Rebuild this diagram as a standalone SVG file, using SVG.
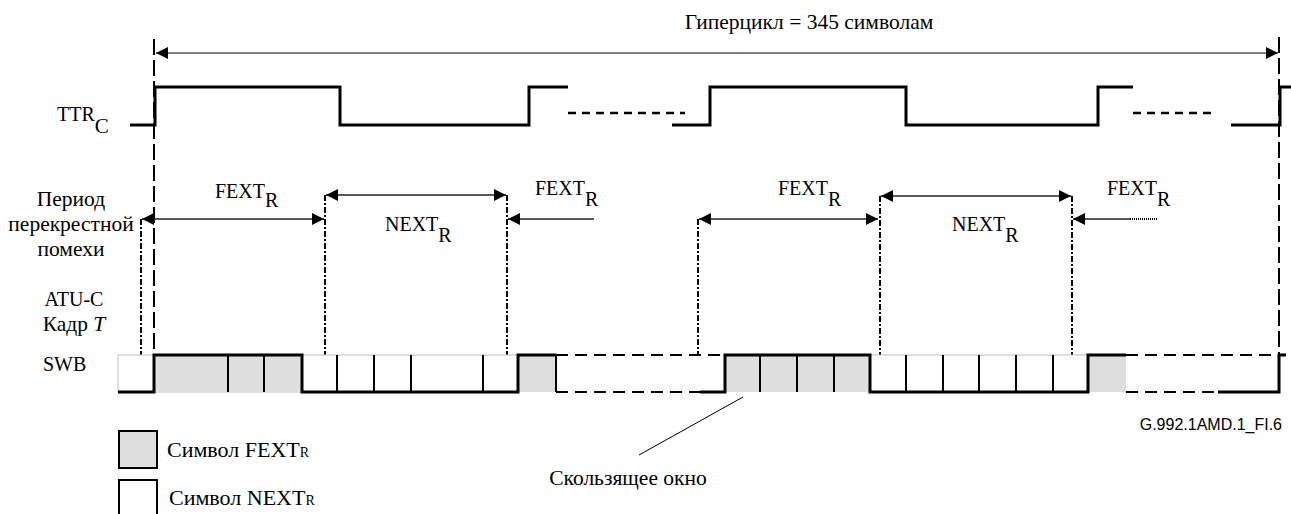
<svg xmlns="http://www.w3.org/2000/svg" width="1291" height="514" viewBox="0 0 1291 514">
<style>
text{font-family:"Liberation Serif","Times New Roman",serif;font-size:20px;fill:#000}
.cy{font-size:21.5px}
.lg{font-size:22px}
.sans{font-family:"Liberation Sans",Arial,sans-serif;font-size:16px}
.wave{fill:none;stroke:#000;stroke-width:3;stroke-linejoin:miter}
.wdash{fill:none;stroke:#000;stroke-width:2.5;stroke-dasharray:8 6}
.ldash{fill:none;stroke:#000;stroke-width:2;stroke-dasharray:16 5}
.dd{fill:none;stroke:#000;stroke-width:2;stroke-dasharray:6 2 2 2}
.arr{fill:none;stroke:#222;stroke-width:1.3}
.garr{fill:none;stroke:#808080;stroke-width:2}
.cell{fill:#fff;stroke:#c0c0c0;stroke-width:1}
.gcell{fill:#dedede;stroke:none}
.div{stroke:#000;stroke-width:2}
.sdash{fill:none;stroke:#000;stroke-width:2;stroke-dasharray:12 7}
</style>
<defs>
<marker id="ah" markerUnits="userSpaceOnUse" markerWidth="13" markerHeight="12" refX="12" refY="6" orient="auto-start-reverse">
<path d="M0,0 L12,6 L0,12 z" fill="#000"/>
</marker>
</defs>

<g id="title">
<text class="cy" x="809" y="29" text-anchor="middle">Гиперцикл = 345 символам</text>
</g>

<g id="labels">
<text x="57" y="121">TTR<tspan dy="12" font-size="21">C</tspan></text>
<text class="cy" x="71" y="206" text-anchor="middle">Период</text>
<text class="cy" x="71" y="231" text-anchor="middle">перекрестной</text>
<text class="cy" x="71" y="256" text-anchor="middle">помехи</text>
<text x="74" y="306" text-anchor="middle">ATU-C</text>
<text class="cy" x="74" y="331" text-anchor="middle">Кадр <tspan font-style="italic">T</tspan></text>
<text x="43" y="371">SWB</text>
</g>

<g id="ttr-wave">
<path class="wave" d="M130,125 H155 V87 H340 V125 H529 V87 H568"/>
<path class="wdash" d="M568,113 H685"/>
<path class="wave" d="M672,125 H710 V87 H906 V125 H1098 V87 H1133"/>
<path class="wdash" d="M1133,113 H1215"/>
<path class="wave" d="M1231,125 H1280 V87 H1291"/>
</g>

<g id="connectors">
<line class="garr" x1="156" y1="53" x2="1278" y2="53" marker-start="url(#ah)" marker-end="url(#ah)"/>
<line class="ldash" x1="154" y1="39" x2="154" y2="355"/>
<line class="ldash" x1="1279" y1="37" x2="1279" y2="355"/>
<line class="dd" x1="141" y1="219" x2="141" y2="355"/>
<line class="dd" x1="325" y1="195" x2="325" y2="355"/>
<line class="dd" x1="507" y1="195" x2="507" y2="355"/>
<line class="dd" x1="698" y1="219" x2="698" y2="355"/>
<line class="dd" x1="880" y1="196" x2="880" y2="355"/>
<line class="dd" x1="1072" y1="196" x2="1072" y2="355"/>
<line class="arr" x1="142" y1="219" x2="324" y2="219" marker-start="url(#ah)" marker-end="url(#ah)"/>
<line class="arr" x1="326" y1="195" x2="506" y2="195" marker-start="url(#ah)" marker-end="url(#ah)"/>
<line class="arr" x1="508" y1="219" x2="594" y2="219" marker-start="url(#ah)"/>
<line class="arr" x1="699" y1="219" x2="878" y2="219" marker-start="url(#ah)" marker-end="url(#ah)"/>
<line class="arr" x1="881" y1="196" x2="1071" y2="196" marker-start="url(#ah)" marker-end="url(#ah)"/>
<line class="arr" x1="1073" y1="219" x2="1130" y2="219" marker-start="url(#ah)"/>
<line x1="1130" y1="219" x2="1158" y2="219" stroke="#000" stroke-width="2" stroke-dasharray="1 1"/>
<line x1="743" y1="397" x2="639" y2="455" stroke="#000" stroke-width="1"/>
</g>

<g id="period-labels">
<text x="215" y="198">FEXT<tspan dy="9">R</tspan></text>
<text x="385" y="231">NEXT<tspan dy="11">R</tspan></text>
<text x="535" y="195">FEXT<tspan dy="11">R</tspan></text>
<text x="778" y="195">FEXT<tspan dy="11">R</tspan></text>
<text x="952" y="231">NEXT<tspan dy="11">R</tspan></text>
<text x="1107" y="195">FEXT<tspan dy="11">R</tspan></text>
</g>

<g id="swb">
<rect class="cell" x="118" y="355" width="400" height="37"/>
<rect class="gcell" x="154" y="355" width="148" height="37"/>
<rect class="gcell" x="518" y="355" width="38" height="37"/>
<rect class="cell" x="870" y="355" width="218" height="37"/>
<rect class="gcell" x="725" y="355" width="145" height="37"/>
<rect class="gcell" x="1088" y="355" width="38" height="37"/>
<g class="div">
<line x1="228" y1="355" x2="228" y2="392"/>
<line x1="264" y1="355" x2="264" y2="392"/>
<line x1="337" y1="355" x2="337" y2="392"/>
<line x1="374" y1="355" x2="374" y2="392"/>
<line x1="411" y1="355" x2="411" y2="392"/>
<line x1="483" y1="355" x2="483" y2="392"/>
<line x1="556" y1="355" x2="556" y2="392"/>
<line x1="760" y1="355" x2="760" y2="392"/>
<line x1="797" y1="355" x2="797" y2="392"/>
<line x1="834" y1="355" x2="834" y2="392"/>
<line x1="906" y1="355" x2="906" y2="392"/>
<line x1="943" y1="355" x2="943" y2="392"/>
<line x1="979" y1="355" x2="979" y2="392"/>
<line x1="1016" y1="355" x2="1016" y2="392"/>
<line x1="1053" y1="355" x2="1053" y2="392"/>
</g>
<path class="wave" d="M118,392 H154 V355 H302 V392 H518 V355 H556"/>
<path class="sdash" d="M556,355 H725 M556,392 H700"/>
<path class="wave" d="M700,392 H725 V355 H870 V392 H1088 V355 H1126"/>
<path class="sdash" d="M1126,355 H1279 M1126,392 H1218"/>
<path class="wave" d="M1218,392 H1279 V355 H1286"/>
</g>

<g id="legend">
<rect x="119" y="431" width="38" height="37" fill="#dedede" stroke="#000" stroke-width="2"/>
<text class="lg" x="167" y="457">Символ FEXT<tspan font-size="14">R</tspan></text>
<rect x="119" y="480" width="38" height="40" fill="#fff" stroke="#000" stroke-width="2"/>
<text class="lg" x="169" y="505">Символ NEXT<tspan font-size="14">R</tspan></text>
</g>

<g id="notes">
<text class="cy" x="628" y="485" text-anchor="middle">Скользящее окно</text>
<text class="sans" x="1282" y="430" text-anchor="end">G.992.1AMD.1_FI.6</text>
</g>
</svg>
